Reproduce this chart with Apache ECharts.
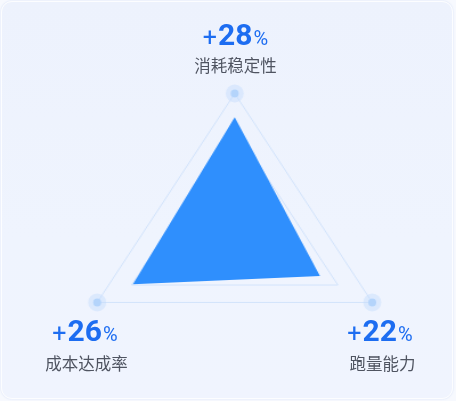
<!DOCTYPE html>
<html>
<head>
<meta charset="utf-8">
<script src="https://cdn.jsdelivr.net/npm/echarts@6/dist/echarts.min.js"></script>
<style>
html,body{margin:0;padding:0;background:#f7f9fe;}
#wrap{position:relative;width:456px;height:401px;overflow:hidden;}
#card{position:absolute;left:1px;top:1px;width:450px;height:396px;border-radius:11px;
  background:linear-gradient(180deg,#edf2fd 0%,#eff4fe 60%,#f0f4fe 100%);
  border:1.5px solid #fcfdff;box-shadow:0 0 2px rgba(170,195,240,0.45);}
#radar{position:absolute;left:0;top:0;width:400px;height:401px;transform:scaleX(1.14);transform-origin:0 0;}
#labels{position:absolute;left:0;top:0;width:456px;height:401px;}
</style>
</head>
<body>
<div id="wrap">
  <div id="card"></div>
  <div id="radar"></div>
  <div id="labels"></div>
</div>
<script>
// ---- data ----
const indicators = ['消耗稳定性', '成本达成率', '跑量能力'];
const changeValues = [28, 26, 22];          // displayed percentage change
const scoreValues = [83, 74, 62];           // radar polygon values
const maxValues = [100, 100, 100];          // indicator maxima (outer ring)

// ---- layout ----
const SX = 1.14;                            // horizontal stretch of the radar layer
const CX = 234.7, CY = 232.8, RADIUS = 139.3;
const labelLayout = [
  {vx: 235.5, vy: 52, nx: 235.5, ny: 66},
  {vx: 85,    vy: 348, nx: 86.5, ny: 363.5},
  {vx: 380,   vy: 348, nx: 382.5, ny: 363.5}
];

const radarChart = echarts.init(document.getElementById('radar'), null, {renderer: 'canvas'});
radarChart.setOption({
  animation: false,
  backgroundColor: 'transparent',
  radar: {
    center: [CX / SX, CY],
    radius: RADIUS,
    startAngle: 90,
    splitNumber: 4,
    shape: 'polygon',
    indicator: indicators.map((n, i) => ({name: n, min: 0, max: maxValues[i]})),
    axisName: {show: false},
    axisLine: {show: false},
    axisTick: {show: false},
    axisLabel: {show: false},
    splitLine: {lineStyle: {color: '#d2e3fb', width: 1}},
    splitArea: {show: false}
  },
  series: [
    {
      type: 'radar', silent: true, symbol: 'none',
      lineStyle: {opacity: 0},
      areaStyle: {color: '#2f8ffd', opacity: 1},
      data: [{value: scoreValues}]
    },
    {
      type: 'radar', silent: true, symbol: 'circle', symbolSize: [18 / SX, 18],
      itemStyle: {color: 'rgba(196,220,252,0.45)'},
      lineStyle: {opacity: 0},
      data: [{value: maxValues}]
    },
    {
      type: 'radar', silent: true, symbol: 'circle', symbolSize: [8 / SX, 8],
      itemStyle: {color: '#b4d4fb'},
      lineStyle: {opacity: 0},
      data: [{value: maxValues}]
    }
  ]
});

const labelChart = echarts.init(document.getElementById('labels'), null, {renderer: 'canvas'});
const blue = '#1d6df1';
labelChart.setOption({
  animation: false,
  backgroundColor: 'transparent',
  graphic: indicators.flatMap((name, i) => {
    const L = labelLayout[i];
    return [
      {
        type: 'text', x: L.vx, y: L.vy, silent: true,
        style: {
          text: '{p|+}{n|' + changeValues[i] + '}{s|%}',
          align: 'center', verticalAlign: 'bottom',
          rich: {
            p: {fill: blue, fontFamily: 'Roboto', fontSize: 25, fontWeight: 'normal', lineHeight: 25, verticalAlign: 'bottom', padding: [0, 1, 0, 0]},
            n: {fill: blue, fontFamily: 'Roboto', fontSize: 30, fontWeight: 'bold', lineHeight: 30, verticalAlign: 'bottom'},
            s: {fill: blue, fontFamily: 'Roboto', fontSize: 20, fontWeight: 'normal', lineHeight: 20, verticalAlign: 'bottom', padding: [0, 0, 2, 1]}
          }
        }
      },
      {
        type: 'text', x: L.nx, y: L.ny, silent: true,
        style: {
          text: name, align: 'center', verticalAlign: 'middle',
          fill: '#4f5461', fontFamily: 'Noto Sans CJK SC', fontSize: 16.5
        }
      }
    ];
  })
});
</script>
</body>
</html>
